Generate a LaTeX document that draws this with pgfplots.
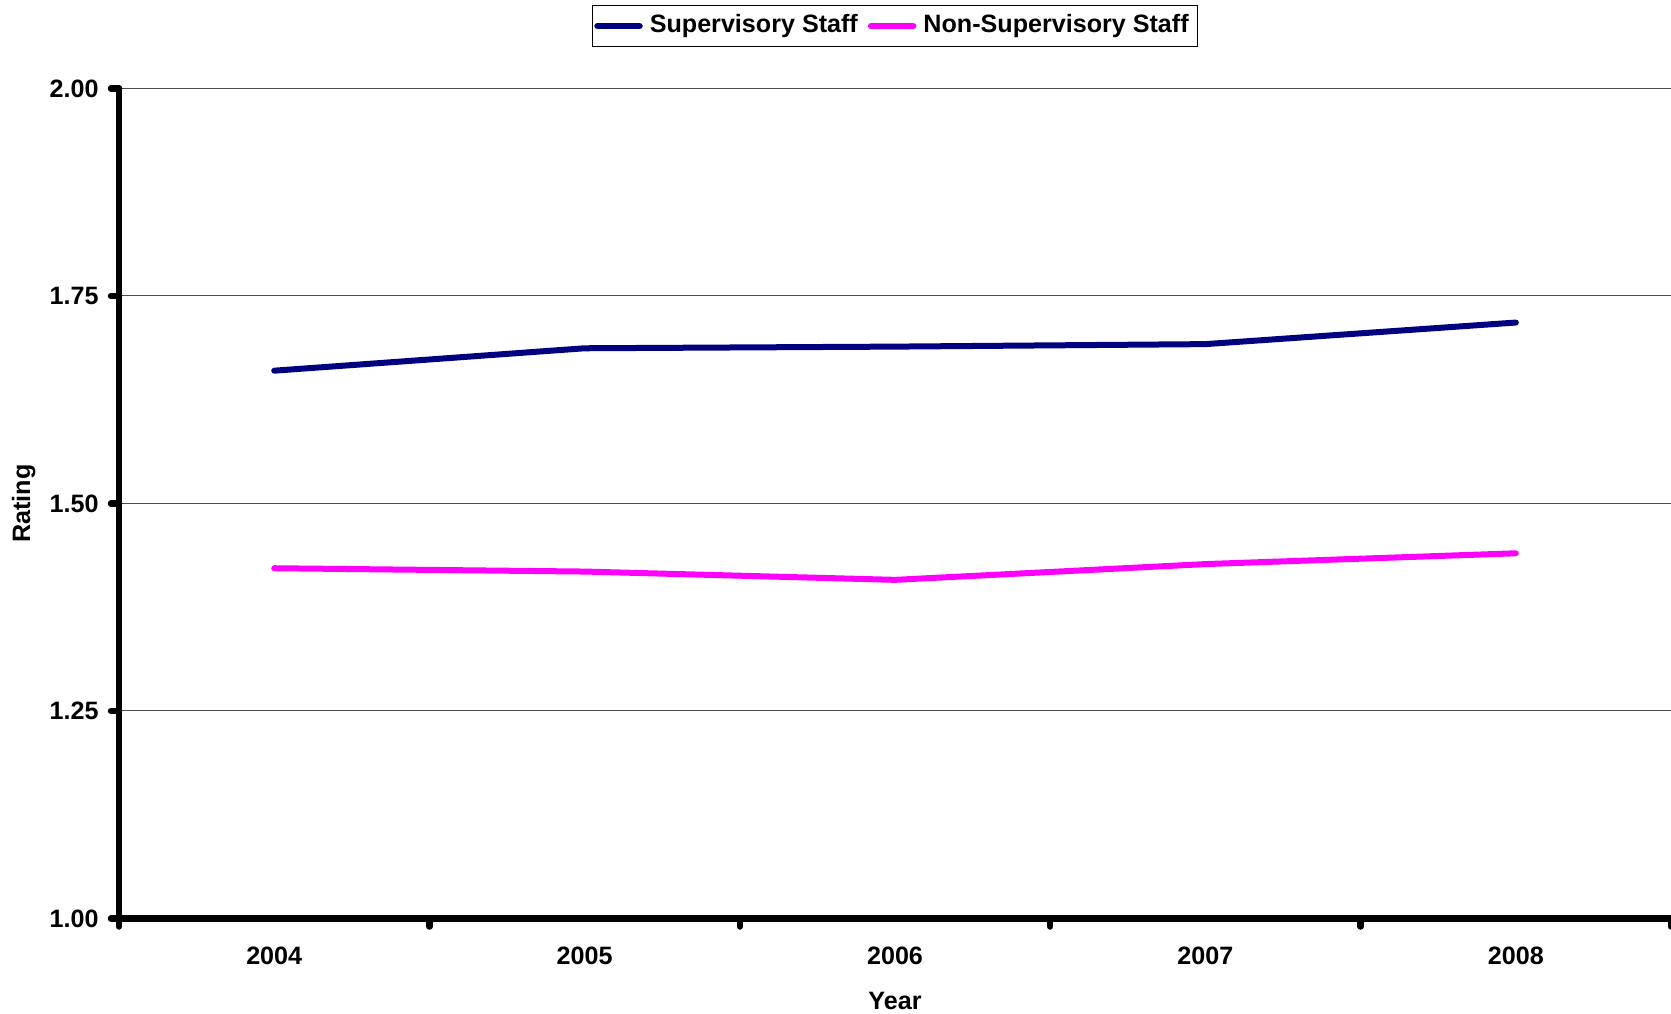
\documentclass[border=0pt]{standalone}
\usepackage{fontspec}
\setmainfont{Liberation Sans}
\usepackage{pgfplots}
\pgfplotsset{compat=1.18}
\usetikzlibrary{calc}
\definecolor{supc}{HTML}{000080}
\definecolor{nonc}{HTML}{FF00FF}
\begin{document}
\begin{tikzpicture}
\begin{axis}[name=ax, scale only axis, width=15.52cm, height=8.30cm,
  font=\fontsize{7.15}{9}\selectfont\bfseries,
  xmin=-0.5, xmax=4.5, ymin=1, ymax=2,
  axis lines*=left, axis line style={-, black, line width=0.65mm, line cap=round},
  xtick={0,1,2,3,4}, xticklabels={2004,2005,2006,2007,2008},
  major x tick style={draw=none},
  extra x ticks={-0.5,0.5,1.5,2.5,3.5,4.5}, extra x tick labels={},
  extra x tick style={grid=none, major x tick style={draw=black, line width=0.65mm, line cap=round}},
  ytick={1,1.25,1.5,1.75,2},
  yticklabel style={/pgf/number format/fixed, /pgf/number format/fixed zerofill,
    /pgf/number format/precision=2},
  /pgf/number format/assume math mode=true,
  y tick style={black, line width=0.65mm, line cap=round},
  tick align=outside, major tick length=0.8mm,
  xticklabel style={yshift=-0.85mm},
  ymajorgrids, grid style={gray!60!black, line width=0.1mm},
  xlabel={Year}, ylabel={Rating},
  x label style={at={(axis description cs:0.5,-0.099)}, anchor=center},
  y label style={at={(axis description cs:-0.0615,0.5)}, anchor=center},
  legend columns=2,
  legend style={at={(axis description cs:0.5,1.0495)}, anchor=south, draw=black, line width=0.1mm,
    inner sep=0.2mm, /tikz/every even column/.append style={column sep=0.3mm}},
  legend image code/.code={\draw[#1, line width=0.65mm, line cap=round] (0cm,0cm) -- (0.42cm,0cm);},
  clip=false]
\addplot[supc, line width=0.6mm, line cap=round] coordinates {(0,1.660) (1,1.687) (2,1.689) (3,1.692) (4,1.718)};
\addplot[nonc, line width=0.6mm, line cap=round] coordinates {(0,1.422) (1,1.418) (2,1.408) (3,1.427) (4,1.440)};
\legend{Supervisory Staff, Non-Supervisory Staff}
\draw[gray, line width=0.1mm] (rel axis cs:1,0) -- (rel axis cs:1,1);
\end{axis}
\pgfresetboundingbox
\path ($(ax.south west)+(-1.19cm,-0.954cm)$) rectangle ($(ax.north east)+(0,0.885cm)$);
\end{tikzpicture}
\end{document}
